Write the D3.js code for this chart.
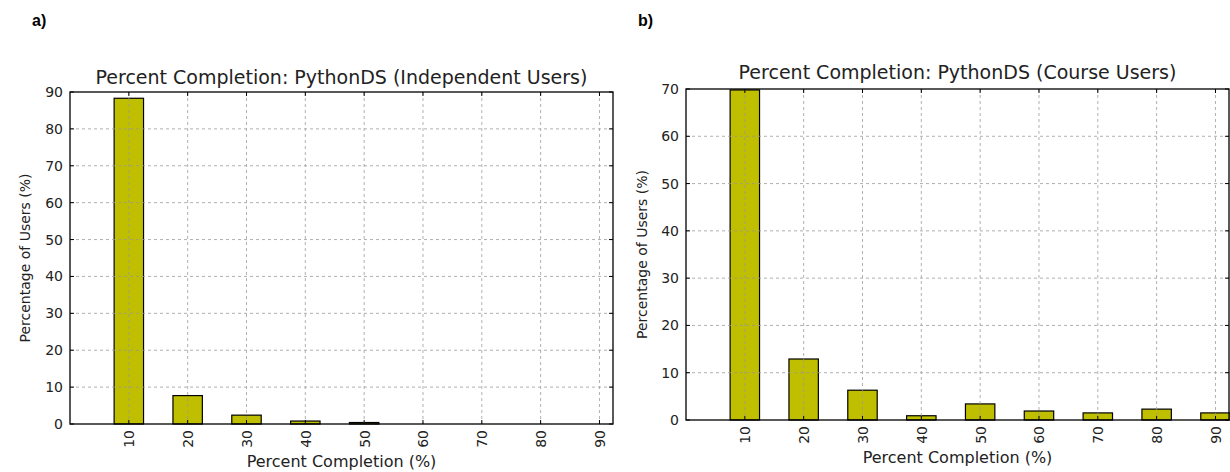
<!DOCTYPE html>
<html>
<head>
<meta charset="utf-8">
<script src="https://cdn.jsdelivr.net/npm/d3@7"></script>
<style>
  html, body { margin: 0; padding: 0; background: #fff; }
  svg { display: block; }
  text { font-family: "DejaVu Sans", sans-serif; fill: #222; }
  .panel-tag { font-family: "Liberation Sans", Arial, sans-serif; font-weight: bold; fill: #000; }
</style>
</head>
<body>
<svg id="chart" width="1230" height="472"></svg>
<script>
// Completion buckets (percent of the book finished)
const categories = ["10", "20", "30", "40", "50", "60", "70", "80", "90"];

// Share of users in each bucket (%)
const independentValues = [88.3, 7.7, 2.4, 0.8, 0.4, 0, 0, 0, 0];
const courseValues = [69.8, 12.9, 6.3, 0.9, 3.4, 1.9, 1.5, 2.3, 1.5];

// Y-axis tick values for each panel
const independentTicks = [0, 10, 20, 30, 40, 50, 60, 70, 80, 90];
const courseTicks = [0, 10, 20, 30, 40, 50, 60, 70];

const titles = [
  "Percent Completion: PythonDS (Independent Users)",
  "Percent Completion: PythonDS (Course Users)"
];
const xLabel = "Percent Completion (%)";
const yLabel = "Percentage of Users (%)";

const svg = d3.select("#chart");

function drawPanel(cfg) {
  const { left, top, width, height, values, yTicks, title, tag, tagX, titleY, xLabelY, yLabelX } = cfg;
  const g = svg.append("g").attr("transform", `translate(${left},${top})`);

  const x = d3.scaleLinear().domain([-1, 8.23]).range([0, width]);
  const y = d3.scaleLinear().domain([0, d3.max(yTicks)]).range([height, 0]);
  const barW = x(0.5) - x(0);
  const idx = categories.map((_, i) => i);

  // bars
  g.selectAll("rect.bar")
    .data(values)
    .join("rect")
    .attr("class", "bar")
    .attr("x", (d, i) => x(i) - barW / 2)
    .attr("y", d => y(d))
    .attr("width", barW)
    .attr("height", d => y(0) - y(d))
    .attr("fill", "#bfbf00")
    .attr("stroke", "#000")
    .attr("stroke-width", 1.2);

  // grid (drawn over the bars)
  const grid = g.append("g").attr("stroke", "#9a9a9a").attr("stroke-width", 0.9)
    .attr("stroke-dasharray", "3,3").attr("opacity", 0.85);
  grid.selectAll("line.gx").data(idx).join("line")
    .attr("x1", d => x(d)).attr("x2", d => x(d))
    .attr("y1", 0).attr("y2", height);
  grid.selectAll("line.gy").data(yTicks.slice(1, -1)).join("line")
    .attr("x1", 0).attr("x2", width)
    .attr("y1", d => y(d)).attr("y2", d => y(d));

  // inward ticks on all four sides
  const tk = g.append("g").attr("stroke", "#000").attr("stroke-width", 1);
  idx.forEach(i => {
    tk.append("line").attr("x1", x(i)).attr("x2", x(i)).attr("y1", height).attr("y2", height - 4);
    tk.append("line").attr("x1", x(i)).attr("x2", x(i)).attr("y1", 0).attr("y2", 4);
  });
  yTicks.forEach(v => {
    tk.append("line").attr("x1", 0).attr("x2", 4).attr("y1", y(v)).attr("y2", y(v));
    tk.append("line").attr("x1", width).attr("x2", width - 4).attr("y1", y(v)).attr("y2", y(v));
  });

  // frame
  g.append("rect").attr("x", 0).attr("y", 0).attr("width", width).attr("height", height)
    .attr("fill", "none").attr("stroke", "#000").attr("stroke-width", 1.3);

  // x axis labels (rotated)
  const xAxis = d3.axisBottom(x).tickValues(idx).tickFormat(i => categories[i]).tickSize(0).tickPadding(0);
  const xa = g.append("g").attr("transform", `translate(0,${height})`).call(xAxis);
  xa.select(".domain").remove();
  xa.selectAll("text")
    .attr("transform", "rotate(-90)")
    .attr("x", -6).attr("y", 0).attr("dy", "0.35em")
    .attr("text-anchor", "end")
    .style("font-size", "14px").style("font-family", "DejaVu Sans, sans-serif").attr("fill", "#222");

  // y axis labels
  const yAxis = d3.axisLeft(y).tickValues(yTicks).tickSize(0).tickPadding(7);
  const ya = g.append("g").call(yAxis);
  ya.select(".domain").remove();
  ya.selectAll("text").style("font-size", "14px").style("font-family", "DejaVu Sans, sans-serif").attr("fill", "#222");

  // title and axis titles
  g.append("text").attr("x", width / 2).attr("y", titleY).attr("text-anchor", "middle")
    .style("font-size", "19px").text(title);
  g.append("text").attr("x", width / 2).attr("y", xLabelY).attr("text-anchor", "middle")
    .style("font-size", "16px").text(xLabel);
  g.append("text").attr("transform", `translate(${yLabelX},${height / 2}) rotate(-90)`)
    .attr("text-anchor", "middle").attr("dy", "0.35em")
    .style("font-size", "14px").text(yLabel);

  svg.append("text").attr("class", "panel-tag").attr("x", tagX).attr("y", 26)
    .style("font-size", "16px").text(tag);
}

drawPanel({
  left: 70, top: 92, width: 543, height: 332,
  values: independentValues, yTicks: independentTicks, title: titles[0],
  tag: "a)", tagX: 32, titleY: -8, xLabelY: 375, yLabelX: -45
});

drawPanel({
  left: 686, top: 89, width: 543, height: 331,
  values: courseValues, yTicks: courseTicks, title: titles[1],
  tag: "b)", tagX: 638, titleY: -10, xLabelY: 374, yLabelX: -44
});
</script>
</body>
</html>
